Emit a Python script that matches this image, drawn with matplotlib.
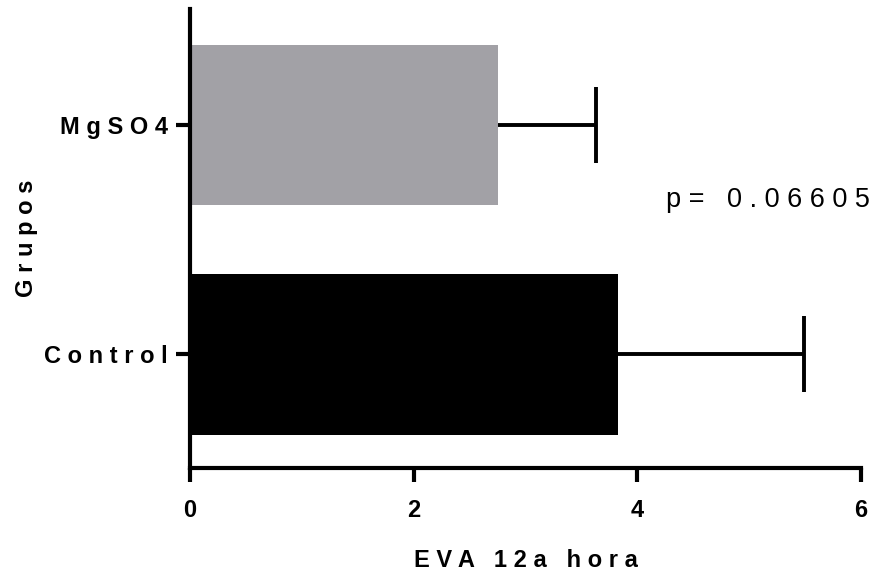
import matplotlib
matplotlib.use("Agg")
import matplotlib.pyplot as plt

categories = ["Control", "MgSO4"]
means = [3.83, 2.75]
sds = [1.66, 0.88]
colors = ["#000000", "#A2A1A6"]
xticks = [0, 2, 4, 6]
p_text = "p =   0 . 0 6 6 0 5"

def spaced(s):
    return " ".join(list(s))

plt.rcParams['font.family'] = ['Liberation Sans', 'DejaVu Sans']

fig = plt.figure(figsize=(8.77, 5.77), dpi=100)
ax = fig.add_axes([190/877, (577-468)/577, (861-190)/877, (468-9)/577])

ypos = list(range(len(categories)))
ax.barh(ypos, means, height=0.7, color=colors, zorder=2)
ax.errorbar(means, ypos, xerr=sds, fmt='none', ecolor='black',
            elinewidth=2.8, capsize=27.5, capthick=2.8, zorder=1)

ax.set_xlim(0, 6)
ax.set_ylim(-0.495, 1.505)
ax.set_xticks(xticks)
ax.set_xticklabels([str(t) for t in xticks], fontsize=17, fontweight='bold')
ax.set_yticks(ypos)
ax.set_yticklabels([spaced(c) for c in categories], fontsize=17, fontweight='bold')

for s in ['top', 'right']:
    ax.spines[s].set_visible(False)
for s in ['left', 'bottom']:
    ax.spines[s].set_linewidth(3)
ax.tick_params(axis='both', width=3, length=10)
ax.tick_params(axis='x', pad=12)
ax.tick_params(axis='y', pad=6)

ax.set_xlabel(spaced("EVA") + "   " + spaced("12a") + "   " + spaced("hora"), fontsize=17,
              fontweight='bold', labelpad=20)
ax.set_ylabel(spaced("Grupos"), fontsize=17, fontweight='bold')
ax.yaxis.set_label_coords(-0.227, 0.5)

ax.text(5.165, 0.644, p_text, fontsize=19.5, ha='center', va='baseline')

fig.savefig("out.png", dpi=100)
